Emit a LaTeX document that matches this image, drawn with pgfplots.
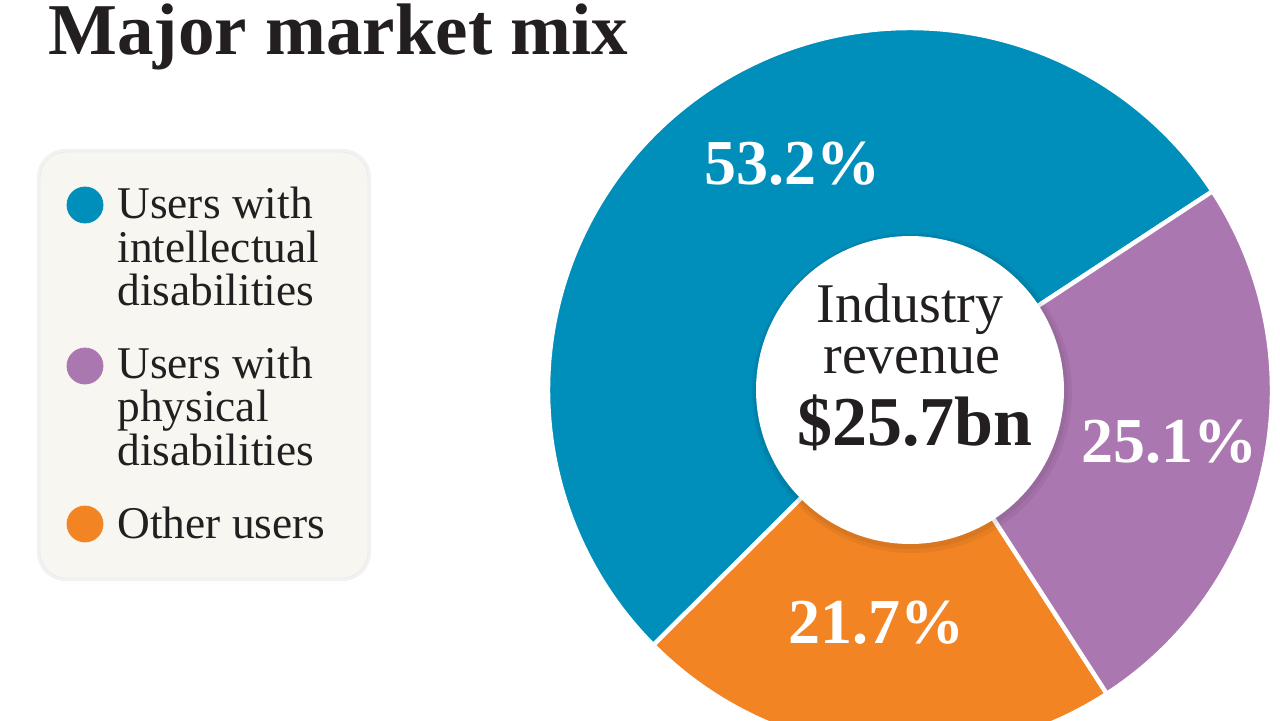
\documentclass[border=0pt]{standalone}
\usepackage{pgfplots}
\pgfplotsset{compat=1.18}
\usepackage{fontspec}
\setmainfont{Liberation Serif}
\definecolor{cblue}{HTML}{008EBA}
\definecolor{cpurple}{HTML}{AB77B0}
\definecolor{corange}{HTML}{F28424}
\definecolor{legbg}{HTML}{F7F6F1}
\definecolor{ink}{HTML}{231F20}
\begin{document}
\begin{tikzpicture}
% data: shares in percent
\def\vA{53.2}% intellectual
\def\vB{21.7}% other
\def\vC{25.1}% physical
\pgfmathsetmacro\aA{33.3}
\pgfmathsetmacro\aB{\aA+3.6*\vA}
\pgfmathsetmacro\aC{\aB+3.6*\vB}
\pgfmathsetmacro\aD{\aC+3.6*\vC}
\path[use as bounding box] (0,0) rectangle (640pt,360pt);
\begin{axis}[at={(0,0)}, anchor=south west, scale only axis,
  width=640pt, height=360pt, xmin=0, xmax=1280, ymin=0, ymax=720,
  hide axis, clip=true]
% legend box
\fill[black, opacity=0.05, rounded corners=14pt] (axis cs:37,139) rectangle (axis cs:371,571);
\fill[legbg, draw=black!8, line width=0.4pt, rounded corners=13pt] (axis cs:40,142) rectangle (axis cs:368,568);
% donut wedges
\addplot[fill=cblue, draw=white, line width=2.2pt, domain=\aA:\aB, samples=150, variable=\t]
  ({910+362*cos(\t)},{330+362*sin(\t)}) -- (axis cs:910,330) -- cycle;
\addplot[fill=corange, draw=white, line width=2.2pt, domain=\aB:\aC, samples=80, variable=\t]
  ({910+362*cos(\t)},{330+362*sin(\t)}) -- (axis cs:910,330) -- cycle;
\addplot[fill=cpurple, draw=white, line width=2.2pt, domain=\aC:\aD, samples=80, variable=\t]
  ({910+362*cos(\t)},{330+362*sin(\t)}) -- (axis cs:910,330) -- cycle;
% soft shadow of the centre disc
\addplot[fill=black, fill opacity=0.05, draw=none, domain=0:360, samples=150, variable=\t]
  ({912+160*cos(\t)},{327+160*sin(\t)}) -- cycle;
\addplot[fill=black, fill opacity=0.05, draw=none, domain=0:360, samples=150, variable=\t]
  ({911+157*cos(\t)},{328+157*sin(\t)}) -- cycle;
\addplot[fill=white, draw=none, domain=0:360, samples=150, variable=\t]
  ({910+154*cos(\t)},{330+154*sin(\t)}) -- cycle;
% legend markers
\addplot[only marks, mark=*, mark size=9pt, color=cblue] coordinates {(85,515)};
\addplot[only marks, mark=*, mark size=9pt, color=cpurple] coordinates {(85,354)};
\addplot[only marks, mark=*, mark size=9pt, color=corange] coordinates {(85,196)};
% slice labels
\node[anchor=base, inner sep=0, text=white, font=\fontsize{32}{32}\selectfont\bfseries] at (axis cs:792,536) {\vA\%};
\node[anchor=base, inner sep=0, text=white, font=\fontsize{32}{32}\selectfont\bfseries] at (axis cs:1169,258) {\vC\%};
\node[anchor=base, inner sep=0, text=white, font=\fontsize{32}{32}\selectfont\bfseries] at (axis cs:876,77) {\vB\%};
% centre text
\node[anchor=base, inner sep=0, text=ink, font=\fontsize{28}{28}\selectfont] at (axis cs:910,398) {Industry};
\node[anchor=base, inner sep=0, text=ink, font=\fontsize{28}{28}\selectfont] at (axis cs:912,347) {revenue};
\node[anchor=base, inner sep=0, text=ink, font=\fontsize{35}{35}\selectfont\bfseries] at (axis cs:915,275) {\$25.7bn};
% legend text
\begin{scope}[every node/.style={anchor=base west, inner sep=0, text=ink, font=\fontsize{22.7}{22.7}\selectfont}]
\node at (axis cs:117,502) {Users with};
\node at (axis cs:117,458) {intellectual};
\node at (axis cs:117,415) {disabilities};
\node at (axis cs:117,342) {Users with};
\node at (axis cs:117,299) {physical};
\node at (axis cs:117,255) {disabilities};
\node at (axis cs:117,182) {Other users};
\end{scope}
% title
\node[anchor=base west, inner sep=0, text=ink, font=\fontsize{36.5}{36.5}\selectfont\bfseries] at (axis cs:48,665) {Major market mix};
\end{axis}
\end{tikzpicture}
\end{document}
